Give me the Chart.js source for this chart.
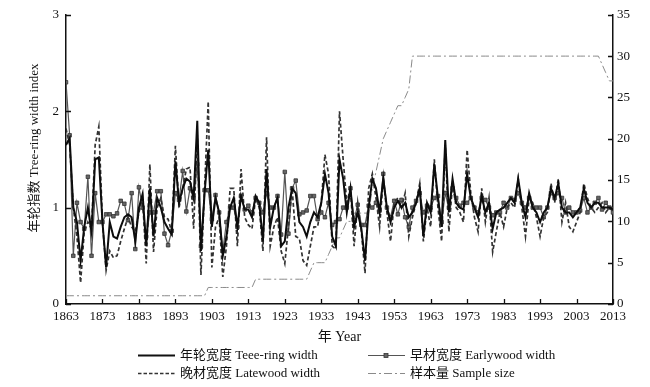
<!DOCTYPE html>
<html><head><meta charset="utf-8">
<script src="https://cdn.jsdelivr.net/npm/chart.js@4/dist/chart.umd.min.js"></script>
<style>
html,body{margin:0;padding:0;background:#fff;}
#wrap{position:relative;width:650px;height:387px;overflow:hidden;}
.item{position:absolute;height:18px;line-height:18px;white-space:nowrap;font-family:"Liberation Serif","Noto Sans CJK SC",serif;font-size:13px;color:#111;}
.item svg{position:absolute;left:0;top:0;}
.item span{position:absolute;top:0;}
</style></head>
<body><div id="wrap"><canvas id="c" width="650" height="387"></canvas></div>
<script>
const START_YEAR = 1863;
const xTicks = [1863,1873,1883,1893,1903,1913,1923,1933,1943,1953,1963,1973,1983,1993,2003,2013];
const leftTicks = [0,1,2,3];
const rightTicks = [0,5,10,15,20,25,30,35];

const treeRing = [
 1.65,1.72,1.0,0.85,0.45,0.8,1.0,0.75,1.5,1.52,
 0.85,0.38,0.85,0.7,0.68,0.8,0.9,0.93,0.9,0.65,
 1.0,1.14,0.6,1.2,0.7,1.1,1.0,0.85,0.78,0.72,
 1.48,1.05,1.2,1.3,1.27,1.1,1.9,0.55,1.15,1.6,
 0.8,1.1,0.95,0.5,0.7,1.0,1.1,0.8,1.12,0.98,
 0.98,0.9,1.12,1.05,0.65,1.4,0.8,1.0,1.1,0.6,
 0.65,1.0,1.2,1.15,0.85,0.8,0.7,0.85,0.95,0.9,
 1.05,1.35,1.15,0.7,0.6,1.5,1.3,0.95,1.2,0.8,
 0.95,0.78,0.45,1.0,1.3,1.2,0.95,1.3,1.0,0.85,
 1.0,1.07,1.0,1.05,0.9,0.95,1.05,1.2,0.7,1.05,
 0.95,1.45,1.1,0.8,1.7,0.95,1.3,1.05,1.0,0.98,
 1.35,1.1,1.0,0.9,1.12,0.95,1.05,0.78,0.95,0.98,
 1.0,1.05,1.1,1.05,1.3,1.05,0.9,1.15,1.0,0.95,
 0.85,0.95,1.0,1.2,1.1,1.25,1.0,0.95,0.95,0.9,
 0.95,1.0,1.2,1.05,1.0,1.05,1.05,1.0,1.0,1.0,
 0.98
];
const earlywood = [
 2.3,1.75,0.5,1.05,0.85,0.78,1.32,0.5,1.15,0.85,
 0.85,0.93,0.93,0.91,0.94,1.07,1.04,0.87,1.15,0.57,
 1.21,1.0,0.7,0.95,0.95,1.17,1.17,0.73,0.61,0.76,
 1.15,1.08,1.38,0.96,1.2,1.1,1.45,0.6,1.18,1.18,
 0.88,1.13,0.95,0.55,0.85,1.0,1.0,0.8,1.12,0.98,
 1.02,0.95,1.1,1.05,0.95,1.15,1.0,1.0,1.12,0.72,
 1.37,0.73,1.2,1.28,0.93,0.95,0.97,1.12,1.12,0.88,
 0.95,0.9,1.05,0.82,0.85,0.88,1.0,1.0,1.2,0.87,
 1.03,0.82,0.82,1.02,1.0,1.05,0.97,1.35,1.0,0.9,
 1.07,0.93,1.08,0.9,0.8,1.0,1.07,1.15,0.95,1.02,
 1.0,1.1,1.12,0.85,1.15,1.0,1.2,1.1,1.02,1.05,
 1.05,1.1,1.0,0.95,1.1,1.08,1.0,0.92,0.95,0.95,
 1.05,1.0,1.1,1.08,1.15,1.05,1.0,1.1,1.0,1.0,
 1.0,0.9,1.0,1.15,1.1,1.15,1.1,0.95,1.0,0.95,
 0.95,0.97,1.1,0.95,1.0,1.05,1.1,0.98,1.05,1.0,
 0.95
];
const latewood = [
 1.82,1.65,1.0,0.7,0.22,0.75,0.85,0.78,1.65,1.84,
 0.85,0.35,0.55,0.48,0.5,0.65,0.78,0.9,0.8,0.75,
 0.95,1.1,0.42,1.45,0.54,1.0,1.1,0.9,0.88,0.75,
 1.64,1.0,1.2,1.4,1.42,0.78,1.75,0.3,1.2,2.1,
 0.38,0.8,0.9,0.28,0.6,1.2,1.2,0.6,1.4,0.9,
 0.82,0.78,1.1,1.0,0.55,1.73,0.6,0.8,0.9,0.55,
 0.42,0.8,1.2,0.7,0.68,0.45,0.4,0.6,0.8,0.8,
 1.05,1.55,1.35,0.6,0.57,2.0,1.5,1.05,1.2,0.6,
 1.05,0.75,0.32,1.2,1.35,1.1,0.8,1.3,0.95,0.65,
 1.05,1.1,1.0,1.15,0.7,0.9,1.05,1.25,0.65,1.0,
 0.8,1.5,1.0,0.65,1.65,0.75,1.25,1.0,0.95,0.85,
 1.6,1.15,0.9,0.75,1.2,0.85,1.1,0.54,0.75,0.95,
 0.8,1.0,1.05,1.0,1.3,1.0,0.7,1.1,1.05,0.9,
 0.7,0.9,0.95,1.25,1.05,1.3,0.85,1.05,0.8,0.75,
 0.85,0.95,1.25,1.1,1.0,0.95,1.0,1.05,0.95,1.0,
 1.0
];
const sampleSize = [
 1,1,1,1,1,1,1,1,1,1,
 1,1,1,1,1,1,1,1,1,1,
 1,1,1,1,1,1,1,1,1,1,
 1,1,1,1,1,1,1,1,1,2,
 2,2,2,2,2,2,2,2,2,2,
 2,2,3,3,3,3,3,3,3,3,
 3,3,3,3,3,3,3,4,5,5,
 5,5,6,7,8,8,9,10,10,11,
 11,11,11,11,14,16,18,20,21,22,
 23,24,24,25,26,30,30,30,30,30,
 30,30,30,30,30,30,30,30,30,30,
 30,30,30,30,30,30,30,30,30,30,
 30,30,30,30,30,30,30,30,30,30,
 30,30,30,30,30,30,30,30,30,30,
 30,30,30,30,30,30,30,29,28,27,
 27
];
const labels = {
  trw: '年轮宽度 Teee-ring width',
  ew: '早材宽度 Earlywood width',
  lw: '晚材宽度 Latewood width',
  ss: '样本量 Sample size',
  x: '年 Year',
  y: '年轮指数 Tree-ring width index'
};

const FONT = '"Liberation Serif", "Noto Sans CJK SC", serif';
const pts = arr => arr.map((v,i)=>({x:START_YEAR+i, y:v}));

const inTicks = {
  id:'inTicks',
  afterDraw(chart){
    const {ctx, chartArea:a, scales} = chart;
    ctx.save();
    ctx.strokeStyle = '#111'; ctx.lineWidth = 1.3;
    ctx.beginPath();
    xTicks.forEach(v=>{const p=Math.round(scales.x.getPixelForValue(v))+0.5; ctx.moveTo(p,a.bottom); ctx.lineTo(p,a.bottom-5);});
    leftTicks.forEach(v=>{const p=Math.round(scales.y.getPixelForValue(v))+0.5; ctx.moveTo(a.left,p); ctx.lineTo(a.left+5,p);});
    rightTicks.forEach(v=>{const p=Math.round(scales.y2.getPixelForValue(v))+0.5; ctx.moveTo(a.right,p); ctx.lineTo(a.right-5,p);});
    ctx.stroke();
    ctx.fillStyle = '#111';
    ctx.font = '13px ' + FONT;
    ctx.textAlign = 'center'; ctx.textBaseline = 'middle';
    ctx.translate(35, 148); ctx.rotate(-Math.PI/2);
    ctx.fillText(labels.y, 0, 0);
    ctx.restore();
  }
};

const tickFont = {family: FONT, size: 13};
new Chart(document.getElementById('c'), {
  type: 'line',
  data: { datasets: [
    {label: labels.trw, data: pts(treeRing), borderColor:'#0d0d0d', borderWidth:2, pointRadius:0, yAxisID:'y', order:1},
    {label: labels.ew, data: pts(earlywood), borderColor:'#555', borderWidth:1.2, pointStyle:'rect', pointRadius:2.5, pointBackgroundColor:'#666', pointBorderColor:'#333', pointBorderWidth:0.8, yAxisID:'y', order:3},
    {label: labels.lw, data: pts(latewood), borderColor:'#333', borderWidth:1.7, borderDash:[4,2.5], pointRadius:0, yAxisID:'y', order:2},
    {label: labels.ss, data: pts(sampleSize), borderColor:'#8a8a8a', borderWidth:1, borderDash:[8,3,2,3], pointRadius:0, yAxisID:'y2', order:4}
  ]},
  options: {
    responsive:false, animation:false, devicePixelRatio:1,
    layout:{padding:{top:13, bottom:39, left:0, right:0}},
    plugins:{legend:{display:false}, tooltip:{enabled:false}},
    elements:{line:{tension:0}},
    scales:{
      x:{type:'linear', min:1863, max:2013,
         ticks:{stepSize:10, autoSkip:false, maxRotation:0, padding:5, color:'#111', font:tickFont, callback:v=>String(v)},
         grid:{display:false, drawTicks:false}, border:{display:true, color:'#111', width:1.5},
         title:{display:true, text:labels.x, color:'#111', font:{family:FONT, size:14}, padding:{top:0,bottom:2}},
         afterFit(s){ s.height = 44; }},
      y:{position:'left', min:0, max:3,
         ticks:{stepSize:1, padding:7, color:'#111', font:tickFont},
         grid:{display:false, drawTicks:false}, border:{display:true, color:'#111', width:1.5},
         afterFit(s){ s.width = 66; }},
      y2:{position:'right', min:0, max:35,
         ticks:{stepSize:5, padding:4, color:'#111', font:tickFont},
         grid:{display:false, drawTicks:false}, border:{display:true, color:'#111', width:1.5},
         afterFit(s){ s.width = 37; }}
    }
  },
  plugins:[inTicks]
});

// legend (HTML)
const wrap = document.getElementById('wrap');
function addItem(left, cy, text, svg){
  const d = document.createElement('div');
  d.className = 'item';
  d.style.left = left + 'px'; d.style.top = (cy - 9) + 'px';
  d.innerHTML = '<svg width="40" height="18">' + svg + '</svg><span style="left:42px">' + text + '</span>';
  wrap.appendChild(d);
}
addItem(138, 355, labels.trw, '<line x1="0" y1="9.5" x2="37" y2="9.5" stroke="#111" stroke-width="1.8"/>');
addItem(368, 355, labels.ew, '<line x1="0" y1="9.5" x2="37" y2="9.5" stroke="#555" stroke-width="1.2"/><rect x="16" y="7.5" width="4" height="4" fill="#666" stroke="#333" stroke-width="0.8"/>');
addItem(138, 373, labels.lw, '<line x1="0" y1="9.5" x2="37" y2="9.5" stroke="#333" stroke-width="1.6" stroke-dasharray="3.5,2"/>');
addItem(368, 373, labels.ss, '<line x1="0" y1="9.5" x2="37" y2="9.5" stroke="#8a8a8a" stroke-width="1" stroke-dasharray="8,3,2,3"/>');
</script>
</body></html>
